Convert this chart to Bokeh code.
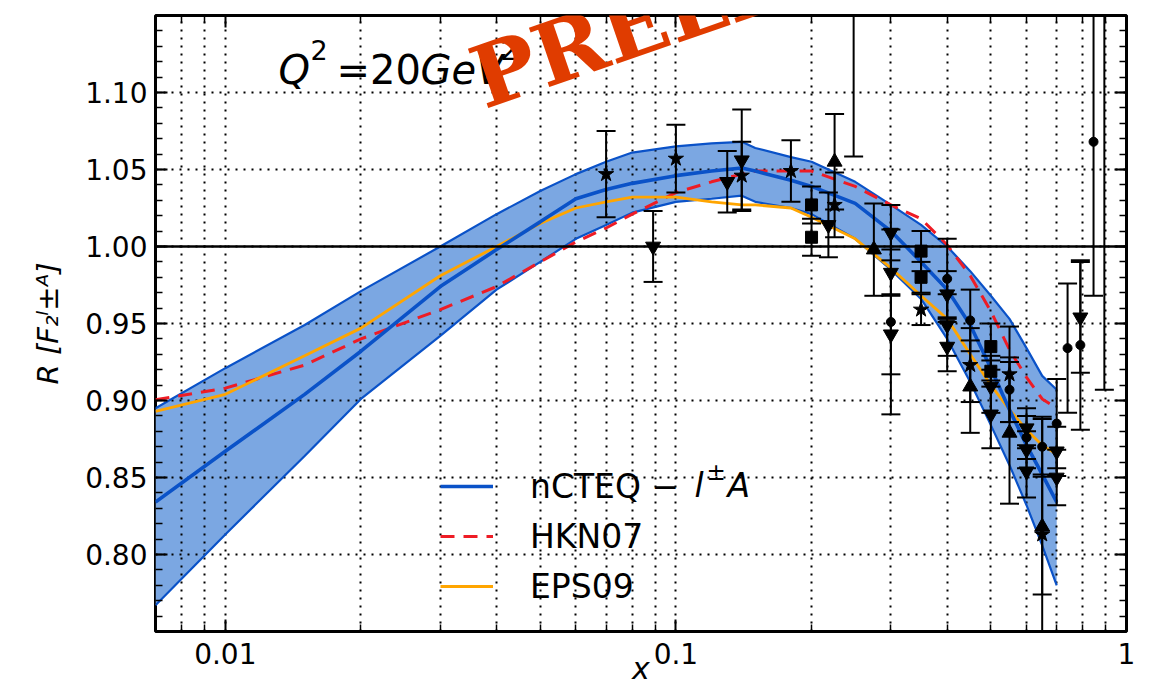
import math
from bokeh.plotting import figure
from bokeh.models import (Range1d, FixedTicker, LinearAxis, LogAxis, NumeralTickFormatter,
                          CustomJSTickFormatter, Span, Label, Legend, LegendItem)
from bokeh.embed import file_html
from bokeh.resources import INLINE

# ---------------- data ----------------
x_curve = [0.007, 0.01, 0.015, 0.02, 0.03, 0.04, 0.05, 0.06, 0.07, 0.08, 0.1, 0.12, 0.14,
           0.15, 0.18, 0.2, 0.25, 0.3, 0.35, 0.4, 0.45, 0.5, 0.55, 0.6, 0.65, 0.7]
ncteq_upper = [0.895, 0.921, 0.949, 0.971, 1.000, 1.021, 1.036, 1.047, 1.055, 1.061, 1.065, 1.067, 1.068,
               1.064, 1.058, 1.055, 1.042, 1.027, 1.014, 1.000, 0.984, 0.968, 0.953, 0.934, 0.916, 0.907]
ncteq_central = [0.834, 0.867, 0.904, 0.932, 0.974, 0.998, 1.016, 1.031, 1.037, 1.041, 1.046, 1.049, 1.051,
                 1.049, 1.043, 1.039, 1.028, 1.010, 0.990, 0.972, 0.949, 0.921, 0.894, 0.871, 0.852, 0.834]
ncteq_lower = [0.767, 0.813, 0.864, 0.901, 0.942, 0.972, 0.990, 1.005, 1.014, 1.022, 1.029, 1.031, 1.033,
               1.029, 1.025, 1.021, 1.005, 0.985, 0.966, 0.940, 0.912, 0.884, 0.858, 0.832, 0.806, 0.780]
hkn07 = [0.9005, 0.908, 0.923, 0.940, 0.959, 0.974, 0.990, 1.003, 1.012, 1.021, 1.035, 1.042, 1.047,
         1.049, 1.049, 1.049, 1.039, 1.027, 1.018, 1.001, 0.981, 0.958, 0.933, 0.915, 0.901, 0.895]
eps09 = [0.893, 0.904, 0.929, 0.947, 0.981, 1.000, 1.015, 1.025, 1.029, 1.032, 1.032, 1.029, 1.027,
         1.027, 1.025, 1.019, 1.005, 0.986, 0.968, 0.953, 0.930, 0.910, 0.894, 0.881, 0.871, 0.865]

star_x = [0.07, 0.10, 0.14, 0.18, 0.225, 0.35, 0.45, 0.55, 0.65]
star_y = [1.047, 1.057, 1.046, 1.049, 1.027, 0.959, 0.923, 0.917, 0.813]
star_err = [0.028, 0.022, 0.022, 0.020, 0.021, 0.010, 0.024, 0.031, 0.039]

dtri_x = [0.089, 0.13, 0.14, 0.218, 0.3, 0.3, 0.3, 0.4, 0.4, 0.4, 0.5, 0.5, 0.6, 0.6, 0.6, 0.7, 0.7, 0.79]
dtri_y = [1.000, 1.042, 1.056, 1.014, 1.009, 0.983, 0.943, 0.969, 0.949, 0.935, 0.909, 0.891,
          0.882, 0.868, 0.854, 0.867, 0.850, 0.954]
dtri_err = [0.023, 0.020, 0.033, 0.021, 0.018, 0.015, 0.026, 0.015, 0.020, 0.016, 0.017, 0.022,
            0.013, 0.012, 0.017, 0.016, 0.018, 0.036]

utri_x = [0.225, 0.275, 0.45, 0.55, 0.65]
utri_y = [1.055, 0.998, 0.909, 0.879, 0.818]
utri_err = [0.031, 0.030, 0.030, 0.046, 0.070]

sq_x = [0.2, 0.2, 0.35, 0.35, 0.5, 0.5]
sq_y = [1.027, 1.006, 0.997, 0.980, 0.935, 0.919]
sq_err = [0.012, 0.012, 0.013, 0.010, 0.015, 0.010]

circ_x = [0.3, 0.4, 0.45, 0.55, 0.6, 0.65, 0.7, 0.74, 0.79, 0.845, 0.248, 0.893]
circ_y = [0.951, 0.979, 0.952, 0.907, 0.876, 0.870, 0.885, 0.934, 0.936, 1.068, 1.22, 1.20]
circ_err = [0.060, 0.026, 0.020, 0.021, 0.014, 0.0195, 0.029, 0.042, 0.055, 0.100, 0.1615, 0.293]

x_major = [0.01, 0.1, 1.0]
x_minor = [0.007, 0.008, 0.009, 0.02, 0.03, 0.04, 0.05, 0.06, 0.07, 0.08, 0.09,
           0.2, 0.3, 0.4, 0.5, 0.6, 0.7, 0.8, 0.9]
y_major = [0.80, 0.85, 0.90, 0.95, 1.00, 1.05, 1.10]
y_minor = [round(0.75 + 0.01 * i, 2) for i in range(41)]

x_label = "x"
y_label = "R [F\u2082\u02e1\u00b1\u1d2c]"

# ---------------- layout ----------------
FL, FR, FT, FB = 155, 1126, 15, 631
XMIN, XMAX, YMIN, YMAX = 0.007, 1.0, 0.75, 1.15

FONT = "DejaVu Sans"
BLUE = "#0a52c8"
BAND = "#7ba7e2"
RED = "#ee1c25"
ORANGE = "#ffa500"

p = figure(width=1154, height=694, x_axis_type="log",
           x_range=Range1d(XMIN, XMAX), y_range=Range1d(YMIN, YMAX),
           output_backend="svg", toolbar_location=None,
           min_border_left=FL, min_border_right=1154 - FR,
           min_border_top=FT, min_border_bottom=694 - FB)
p.background_fill_color = "white"
p.border_fill_color = "white"
p.outline_line_color = "black"
p.outline_line_width = 3
p.outline_line_alpha = 1.0

xt = FixedTicker(ticks=x_major, minor_ticks=x_minor)
yt = FixedTicker(ticks=y_major, minor_ticks=y_minor)


def style_axis(ax, standoff):
    ax.axis_line_color = None
    ax.major_tick_in = 12
    ax.major_tick_out = 0
    ax.minor_tick_in = 7
    ax.minor_tick_out = 0
    ax.major_tick_line_width = 2
    ax.minor_tick_line_width = 1.5
    ax.major_tick_line_color = "black"
    ax.minor_tick_line_color = "black"
    ax.major_label_text_font = FONT
    ax.major_label_text_font_size = "28px"
    ax.major_label_text_color = "black"
    ax.major_label_standoff = standoff
    ax.axis_label_text_font = FONT
    ax.axis_label_text_font_style = "italic"
    ax.axis_label_text_color = "black"


for ax in p.xaxis:
    ax.ticker = xt
    ax.formatter = CustomJSTickFormatter(code="return tick.toString()")
    style_axis(ax, 11)
    ax.axis_label = x_label
    ax.axis_label_text_font_size = "30px"
    ax.axis_label_standoff = -16
for ax in p.yaxis:
    ax.ticker = yt
    ax.formatter = NumeralTickFormatter(format="0.00")
    style_axis(ax, 8)
    ax.axis_label = y_label
    ax.axis_label_text_font_size = "29px"
    ax.axis_label_standoff = 17

top_ax = LogAxis(ticker=xt, formatter=CustomJSTickFormatter(code="return ''"))
style_axis(top_ax, 0)
p.add_layout(top_ax, "above")
right_ax = LinearAxis(ticker=yt, formatter=CustomJSTickFormatter(code="return ''"))
style_axis(right_ax, 0)
p.add_layout(right_ax, "right")

for g in (p.xgrid, p.ygrid):
    g.grid_line_color = "black"
    g.grid_line_dash = "2 6"
    g.grid_line_width = 2
p.xgrid.minor_grid_line_color = "black"
p.xgrid.minor_grid_line_dash = "2 6"
p.xgrid.minor_grid_line_width = 2

# ---------------- curves ----------------
band = p.varea(x=x_curve, y1=ncteq_lower, y2=ncteq_upper, fill_color=BAND, fill_alpha=1.0)
band.level = "image"
p.line(x_curve, ncteq_upper, line_color=BLUE, line_width=2.2)
p.line(x_curve, ncteq_lower, line_color=BLUE, line_width=2.2)
r_hkn = p.line(x_curve, hkn07, line_color=RED, line_width=3, line_dash="14 9")
r_eps = p.line(x_curve, eps09, line_color=ORANGE, line_width=2.8)
r_nc = p.line(x_curve, ncteq_central, line_color=BLUE, line_width=3.6)

p.add_layout(Span(location=1.0, dimension="width", line_color="black", line_width=2.5))

# ---------------- data points ----------------
all_x = star_x + dtri_x + utri_x + sq_x + circ_x
all_y = star_y + dtri_y + utri_y + sq_y + circ_y
all_e = star_err + dtri_err + utri_err + sq_err + circ_err
lo = [y - e for y, e in zip(all_y, all_e)]
hi = [y + e for y, e in zip(all_y, all_e)]
p.segment(x0=all_x, y0=lo, x1=all_x, y1=hi, line_color="black", line_width=2)
p.scatter(x=all_x + all_x, y=lo + hi, marker="dash", size=19, line_color="black", line_width=2)

p.scatter(star_x, star_y, marker="star", size=16, color="black")
p.scatter(dtri_x, dtri_y, marker="inverted_triangle", size=15, color="black")
p.scatter(utri_x, utri_y, marker="triangle", size=15, color="black")
p.scatter(sq_x, sq_y, marker="square", size=12, color="black")
p.scatter(circ_x, circ_y, marker="circle", size=9, color="black")

# ---------------- legend ----------------
legend = Legend(items=[LegendItem(label="nCTEQ \u2212", renderers=[r_nc]),
                       LegendItem(label="HKN07", renderers=[r_hkn]),
                       LegendItem(label="EPS09", renderers=[r_eps])],
                location=(440 - FL, FB - 611), orientation="vertical",
                padding=0, margin=0, spacing=0,
                glyph_width=53, glyph_height=50, label_height=50, label_standoff=37,
                label_text_font=FONT, label_text_font_size="33px", label_text_color="black",
                background_fill_alpha=0, border_line_color=None)
p.add_layout(legend)


# ---------------- texts inside the frame (screen units, relative to the frame) ----------------
def lab(px, py, text, size, style="normal", angle=0, align="left", color="black", font=FONT):
    p.add_layout(Label(x=px - FL, y=FB - py, x_units="screen", y_units="screen",
                       text=text, text_font=font,
                       text_font_size=size, text_font_style=style, text_color=color,
                       angle=angle, angle_units="deg", text_align=align,
                       text_baseline="alphabetic"))


# rest of the first legend entry: l^{±} A
lab(694, 485, "l", "33px", "italic")
lab(706, 471, "\u00b1", "23px")
lab(727, 485, "A", "33px", "italic")

# Q^2 = 20 GeV^2
lab(278, 69, "Q", "40px", "italic")
lab(310, 49, "2", "27px")
lab(336, 69, "=20", "40px")
lab(420, 69, "GeV", "40px", "italic")
lab(500, 49, "2", "27px")

# preliminary stamp
lab(474, 80, "PRELIMINARY", "86px", "bold", angle=19, color="#e03c00", font="DejaVu Serif")

open("out.html", "w").write(file_html(p, INLINE))
